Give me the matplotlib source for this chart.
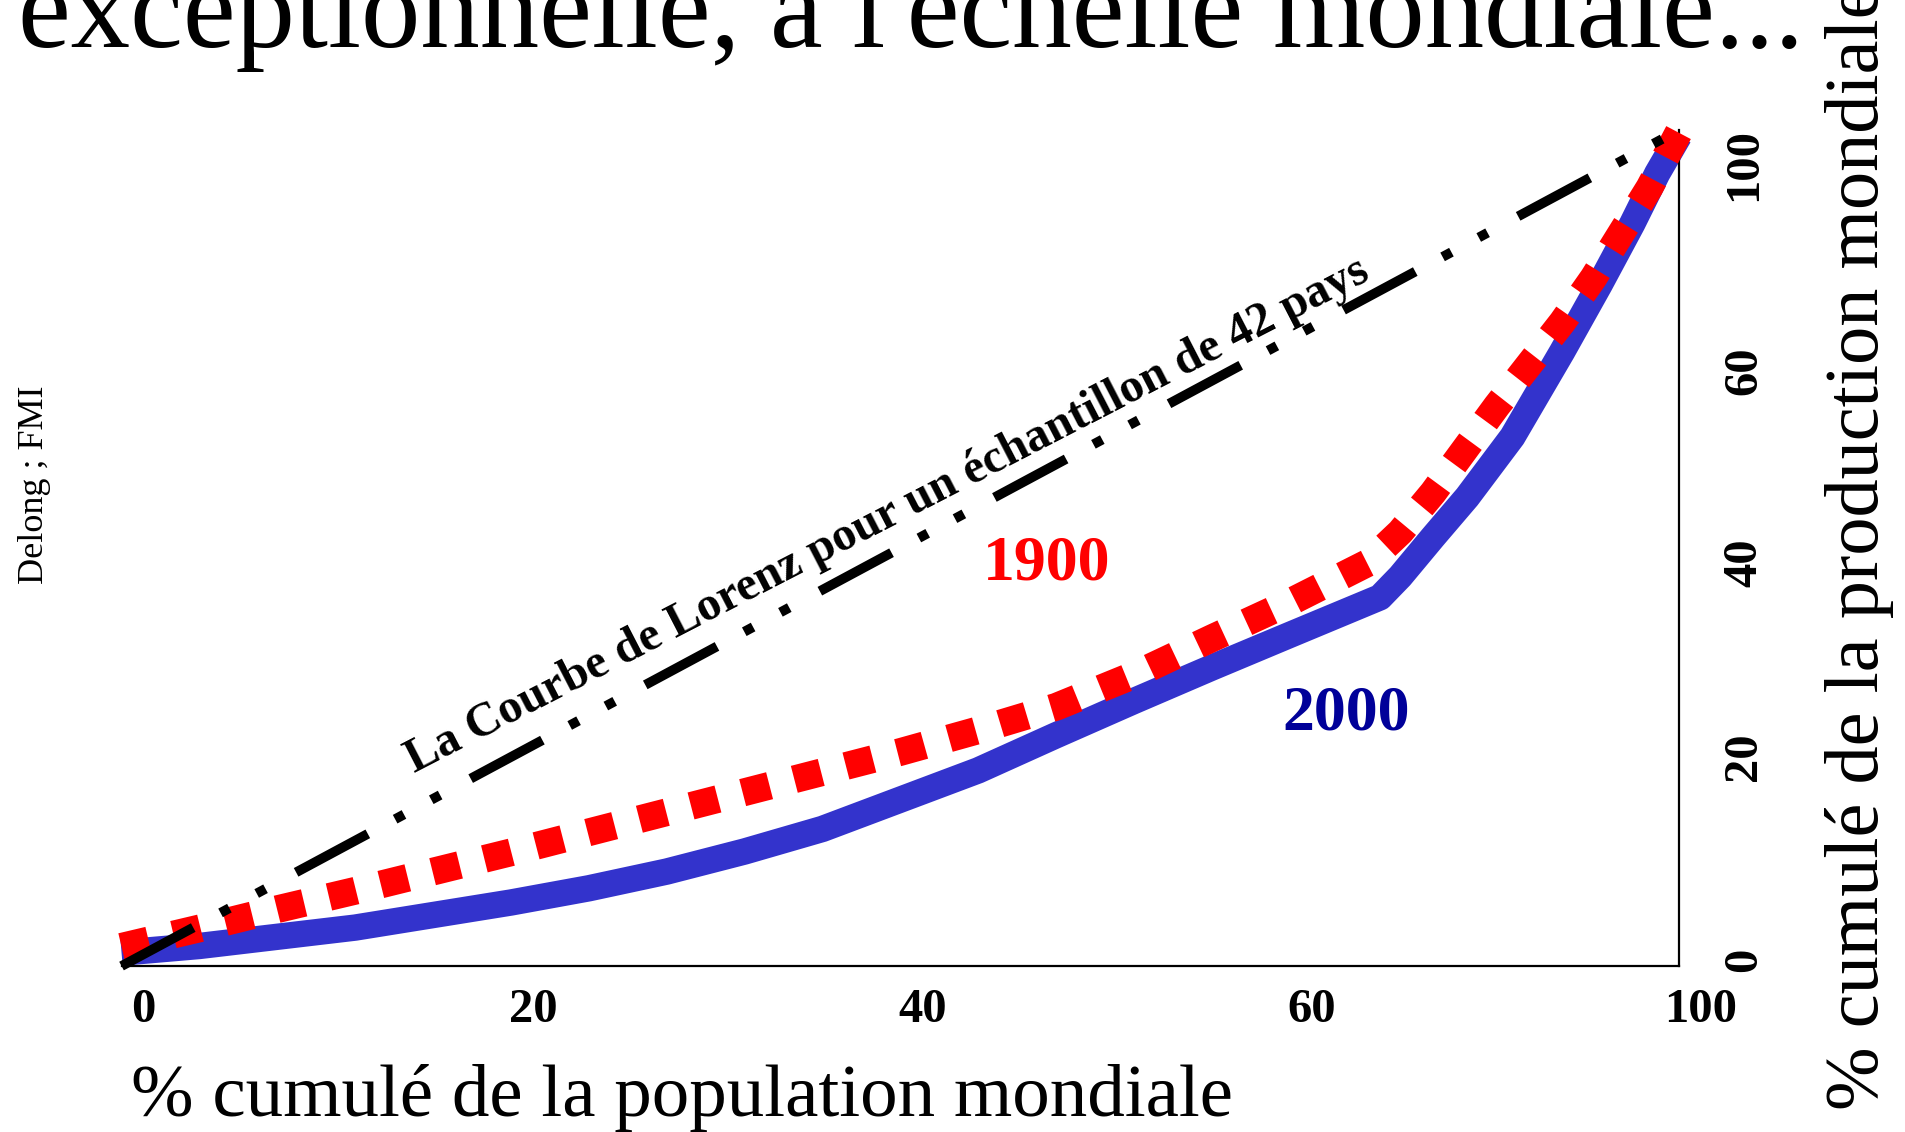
import matplotlib
matplotlib.use("Agg")
import matplotlib.pyplot as plt
import matplotlib.transforms as mtransforms

# % cumulé de la population mondiale (x) / % cumulé de la production mondiale (y)
POP_1900 = [0, 5, 10, 15, 20, 25, 30, 35, 40, 45, 50, 55, 60, 65, 70, 75,
            80, 82.1, 84.2, 88.3, 92.5, 94.5, 96.3, 98.1, 100]
OUT_1900 = [2.3, 4.5, 6.8, 9.0, 11.3, 13.6, 16.0, 18.4, 20.8, 23.2, 25.6, 28.2, 31.0, 34.8, 39.2, 43.5,
            48.2, 51.9, 56.6, 67.0, 77.0, 82.3, 87.7, 93.1, 99.8]

POP_2000 = [0, 5, 10, 15, 20, 25, 30, 35, 40, 45, 50, 55, 60, 65, 70, 75,
            80.8, 82.1, 84.2, 86.4, 89.3, 92.5, 94.9, 97.0, 98.6, 100]
OUT_2000 = [1.6, 2.4, 3.5, 4.6, 6.1, 7.6, 9.3, 11.3, 13.7, 16.4, 19.9, 23.4, 27.6, 31.7, 35.7, 39.6,
            44.1, 46.6, 51.3, 56.1, 63.3, 73.5, 81.5, 88.8, 94.8, 99.3]

POP_EQUAL = [0, 100]
OUT_EQUAL = [0, 100]

X_TICK_LABELS = ["0", "20", "40", "60", "100"]
Y_TICK_LABELS = ["0", "20", "40", "60", "100"]

TITLE = "exceptionnelle, à l'échelle mondiale..."
X_LABEL = "% cumulé de la population mondiale"
Y_LABEL = "% cumulé de la production mondiale"
SOURCE = "Delong ; FMI"
CURVE_LABEL = "La Courbe de Lorenz pour un échantillon de 42 pays"

# where the labels sit (the original spreads them evenly, not by value)
X_TICK_POS = [0, 25, 50, 75, 100]
Y_TICK_POS = [0.7, 25.1, 48.3, 71.2, 95.9]

plt.rcParams['font.family'] = ['Liberation Serif', 'DejaVu Serif']

fig = plt.figure(figsize=(19.05, 11.32), dpi=100)
ax = fig.add_axes([0.0638, 0.1466, 0.8176, 0.7386])

ax.plot(POP_2000, OUT_2000, color="#3333CC", lw=19, solid_capstyle="butt",
        solid_joinstyle="round", clip_on=False, zorder=2)
ax.plot(POP_1900, OUT_1900, color="#FF0000", lw=20, linestyle=(0, (1, 0.92)),
        dash_capstyle="butt", clip_on=False, zorder=3)
ax.plot(POP_EQUAL, OUT_EQUAL, color="black", lw=7,
        linestyle=(0, (8.37, 3.19, 1.03, 3.19, 1.03, 3.57)),
        dash_capstyle="butt", clip_on=False, zorder=4)

ax.spines["left"].set_visible(False)
ax.spines["top"].set_visible(False)
ax.spines["bottom"].set_linewidth(1.6)
ax.spines["right"].set_linewidth(1.6)

ax.set_xticks(X_TICK_POS)
ax.set_xticklabels(X_TICK_LABELS)
ax.yaxis.tick_right()
ax.set_yticks(Y_TICK_POS)
ax.set_yticklabels(Y_TICK_LABELS)
ax.set_xlim(0, 100)
ax.set_ylim(0, 100)
ax.tick_params(axis="both", length=0, labelsize=35)
ax.tick_params(axis="x", pad=16)
ax.tick_params(axis="y", pad=31, labelrotation=90)

# x labels sit a bit right of their tick
shift = mtransforms.ScaledTranslation(0.22, 0, fig.dpi_scale_trans)
for lab in ax.get_xticklabels():
    lab.set_fontweight("bold")
    lab.set_transform(lab.get_transform() + shift)
for lab in ax.get_yticklabels():
    lab.set_fontweight("bold")
    lab.set_verticalalignment("center")

ax.text(49.5, 52.6, CURVE_LABEL, rotation=27.3, rotation_mode="anchor",
        ha="center", va="baseline", fontsize=34.5, fontweight="bold", zorder=5)
ax.text(59.4, 48.0, "1900", color="#FF0000", fontsize=46, fontweight="bold",
        ha="center", va="center")
ax.text(78.6, 30.1, "2000", color="#000099", fontsize=46, fontweight="bold",
        ha="center", va="center")

fig.text(0.0095, 0.9585, TITLE, fontsize=85.5, ha="left", va="baseline")
fig.text(0.069, 0.0145, X_LABEL, fontsize=54, ha="left", va="baseline")
fig.text(0.976, 0.019, Y_LABEL, fontsize=55, rotation=90, ha="center", va="bottom")
fig.text(0.018, 0.572, SOURCE, fontsize=26, rotation=90, ha="center", va="center")

fig.savefig("out.png", dpi=100)
